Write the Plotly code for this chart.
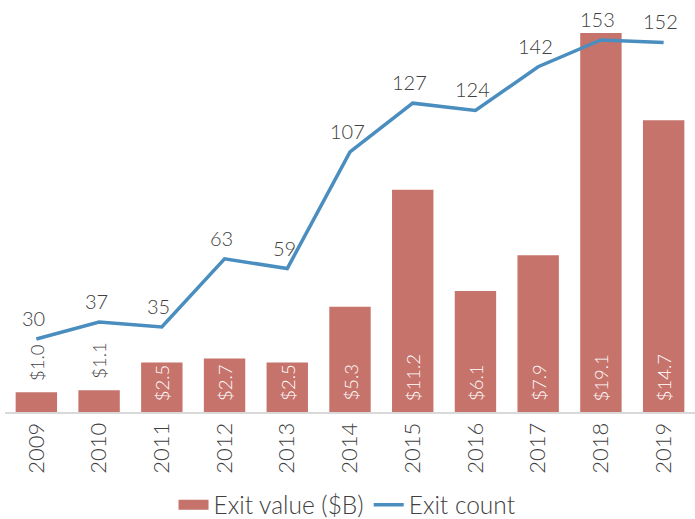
import plotly.graph_objects as go

years = ["2009", "2010", "2011", "2012", "2013", "2014", "2015", "2016", "2017", "2018", "2019"]
exit_value = [1.0, 1.1, 2.5, 2.7, 2.5, 5.3, 11.2, 6.1, 7.9, 19.1, 14.7]
exit_count = [30, 37, 35, 63, 59, 107, 127, 124, 142, 153, 152]

BAR_COLOR = "#c6736b"
LINE_COLOR = "#4a8dbf"
TEXT_COLOR = "#404040"
FONT = "Lato"

bar_labels = [f"${v:.1f}" for v in exit_value]

fig = go.Figure()

fig.add_trace(go.Bar(
    x=years,
    y=exit_value,
    name="Exit value ($B)",
    marker=dict(color=BAR_COLOR, line=dict(width=0)),
    showlegend=False,
    yaxis="y",
))

fig.add_trace(go.Scatter(
    x=years,
    y=exit_count,
    name="Exit count",
    mode="lines",
    line=dict(color=LINE_COLOR, width=3.5),
    yaxis="y2",
    legendrank=2,
))

# Legend entry for the bars drawn as a wide flat swatch
fig.add_trace(go.Scatter(
    x=[None], y=[None],
    name="Exit value ($B)",
    mode="lines",
    line=dict(color=BAR_COLOR, width=10),
    legendrank=1,
))

# Value labels on the bars: vertical, at the base inside tall bars,
# just above the top of short ones
for i, (v, lab) in enumerate(zip(exit_value, bar_labels)):
    inside = v >= 2
    fig.add_annotation(
        x=i, y=0 if inside else v, xref="x", yref="y",
        text=lab, showarrow=False, textangle=-90,
        yanchor="bottom", xanchor="center", yshift=9,
        font=dict(family=FONT, size=18.5,
                  color="white" if inside else TEXT_COLOR, weight=300),
    )

# Count labels above each point of the line
for i, c in enumerate(exit_count):
    fig.add_annotation(
        x=i, y=c, xref="x", yref="y2",
        text=str(c), showarrow=False, yshift=21, xshift=-3,
        font=dict(family=FONT, size=20, color=TEXT_COLOR, weight=300),
    )

fig.update_layout(
    width=695,
    height=519,
    margin=dict(l=5, r=0, t=12, b=107, autoexpand=False),
    paper_bgcolor="white",
    plot_bgcolor="white",
    font=dict(family=FONT, color=TEXT_COLOR, weight=300),
    bargap=0.34,
    showlegend=True,
    legend=dict(
        orientation="h",
        xref="paper", yref="paper",
        x=0.4964, xanchor="center",
        y=-0.232, yanchor="middle",
        font=dict(family=FONT, size=24.5, color=TEXT_COLOR, weight=300),
        itemwidth=30,
    ),
    xaxis=dict(
        type="category",
        categoryorder="array",
        categoryarray=years,
        tickangle=-90,
        tickfont=dict(family=FONT, size=22, color=TEXT_COLOR, weight=300),
        showline=True,
        linecolor="#d9d9d9",
        linewidth=2,
        ticks="",
        showgrid=False,
        automargin=False,
    ),
    yaxis=dict(
        range=[0, 20.16],
        visible=False,
        showgrid=False,
    ),
    yaxis2=dict(
        range=[0, 164.5],
        overlaying="y",
        side="right",
        visible=False,
        showgrid=False,
    ),
)

fig.write_html("out.html")
